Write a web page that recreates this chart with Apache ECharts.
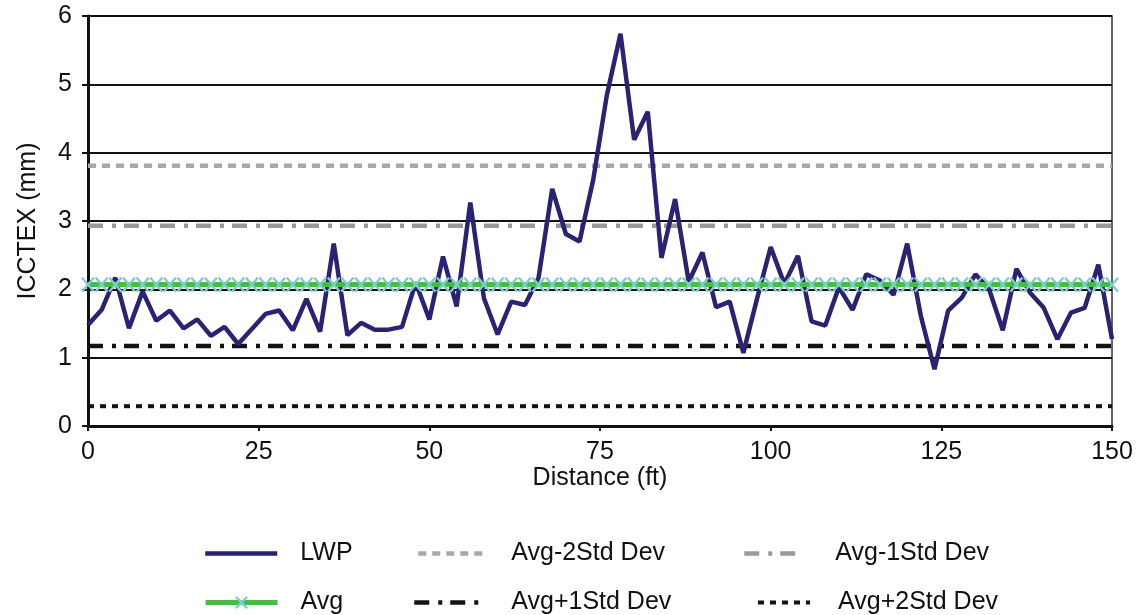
<!DOCTYPE html>
<html><head><meta charset="utf-8">
<script src="https://cdn.jsdelivr.net/npm/echarts@6/dist/echarts.min.js"></script>
<style>html,body{margin:0;padding:0;background:#fff}#c{width:1138px;height:615px}</style>
</head><body><div id="c"></div>
<script>
const distance = [0,2,4,6,8,10,12,14,16,18,20,22,24,26,28,30,32,34,36,38,40,42,44,46,48,50,52,54,56,58,60,62,64,66,68,70,72,74,76,78,80,82,84,86,88,90,92,94,96,98,100,102,104,106,108,110,112,114,116,118,120,122,124,126,128,130,132,134,136,138,140,142,144,146,148,150];
const lwp = [1.48,1.70,2.17,1.43,1.97,1.54,1.69,1.43,1.56,1.32,1.45,1.20,1.42,1.64,1.69,1.40,1.86,1.38,2.67,1.33,1.51,1.41,1.41,1.45,2.10,1.56,2.48,1.75,3.27,1.87,1.34,1.82,1.77,2.17,3.47,2.81,2.70,3.60,4.84,5.74,4.19,4.60,2.46,3.32,2.11,2.54,1.74,1.82,1.07,1.86,2.62,2.08,2.49,1.53,1.47,2.03,1.70,2.22,2.13,1.92,2.67,1.61,0.83,1.69,1.88,2.22,2.00,1.40,2.30,1.95,1.73,1.27,1.66,1.73,2.36,1.27];
const avgValue = 2.07;
const avgMinus2Label = 3.81;   // legend labels kept as in the source
const avgMinus1Label = 2.93;
const avgPlus1Label = 1.17;
const avgPlus2Label = 0.29;
const yTicks = [0,1,2,3,4,5,6];
const xTicks = [0,25,50,75,100,125,150];

const FONT = 'Liberation Sans, Arial, sans-serif';
const xMin = distance[0], xMax = distance[distance.length-1];
const hline = v => [[xMin, v], [xMax, v]];
const xPath = 'path://M0,0L10,10M10,0L0,10';
const CYAN = '#7fcccc';

const chart = echarts.init(document.getElementById('c'), null, {renderer:'canvas'});
const legendBase = (name, left, top, w, pad, ls, isAvg) => ({
  data:[name], left:left, top:top, itemWidth:w, itemHeight:14, itemGap:0, padding:0,
  textStyle:{fontFamily:FONT, fontSize:25, color:'#111', padding:[0,0,0,pad]}, selectedMode:false,
  lineStyle: ls,
  itemStyle: isAvg ? {color:'none', borderColor:CYAN, borderWidth:2.4} : {opacity:0}
});
const S = {
  lwp:{color:'#2a2272', width:4.5, type:'solid'},
  m2:{color:'#a8a8a8', width:4.5, type:[8,6]},
  m1:{color:'#9a9a9a', width:4.5, type:[15,9,4,8]},
  p1:{color:'#161212', width:4.5, type:[15,9,4,8]},
  p2:{color:'#161212', width:4, type:[6,6]},
  avg:{color:'#4cb848', width:5, type:'solid'}
};
chart.setOption({
  animation:false,
  backgroundColor:'#fff',
  grid:{left:88, right:26, top:16, bottom:189, show:true, borderColor:'#333', borderWidth:1.5},
  legend:[
    legendBase('LWP', 203, 541, 72, 18, S.lwp, false),
    legendBase('Avg-2Std Dev', 416, 541, 64, 24, S.m2, false),
    legendBase('Avg-1Std Dev', 742, 541, 60, 26, S.m1, false),
    legendBase('Avg', 203, 590, 72, 18, S.avg, true),
    legendBase('Avg+1Std Dev', 412, 590, 68, 24, S.p1, false),
    legendBase('Avg+2Std Dev', 756, 590, 52, 23, S.p2, false)
  ],
  xAxis:{type:'value', min:0, max:150, interval:25,
    name:'Distance (ft)', nameLocation:'middle', nameGap:40, nameMoveOverlap:false,
    nameTextStyle:{fontFamily:FONT, fontSize:25, color:'#111'},
    axisLine:{lineStyle:{color:'#111', width:3}},
    axisTick:{show:true, length:5, lineStyle:{color:'#111', width:2}},
    axisLabel:{fontFamily:FONT, fontSize:25, color:'#111', margin:14},
    splitLine:{show:false}},
  yAxis:{type:'value', min:0, max:6, interval:1,
    name:'ICCTEX (mm)', nameLocation:'middle', nameGap:47,
    nameTextStyle:{fontFamily:FONT, fontSize:25, color:'#111'},
    axisLine:{show:true, lineStyle:{color:'#111', width:3}},
    axisTick:{show:true, length:6, lineStyle:{color:'#111', width:2}},
    axisLabel:{fontFamily:FONT, fontSize:25, color:'#111', margin:16},
    splitLine:{show:true, lineStyle:{color:'#111', width:2}}},
  series:[
    {name:'Avg-2Std Dev', type:'line', data:hline(avgMinus2Label), symbol:'none', z:2,
      color:S.m2.color, lineStyle:S.m2},
    {name:'Avg-1Std Dev', type:'line', data:hline(avgMinus1Label), symbol:'none', z:2,
      color:S.m1.color, lineStyle:S.m1},
    {name:'Avg+1Std Dev', type:'line', data:hline(avgPlus1Label), symbol:'none', z:2,
      color:S.p1.color, lineStyle:S.p1},
    {name:'Avg+2Std Dev', type:'line', data:hline(avgPlus2Label), symbol:'none', z:2,
      color:S.p2.color, lineStyle:S.p2},
    {name:'LWP', type:'line', data:distance.map((d,i)=>[d,lwp[i]]), symbol:'none', z:4,
      color:S.lwp.color, lineStyle:S.lwp},
    {name:'Avg', type:'line', data:distance.map(d=>[d,avgValue]), symbol:xPath, symbolSize:[12,14], z:5,
      showAllSymbol:true, clip:false,
      color:S.avg.color, lineStyle:S.avg,
      itemStyle:{color:'none', borderColor:CYAN, borderWidth:2.4}}
  ]
});
</script></body></html>
